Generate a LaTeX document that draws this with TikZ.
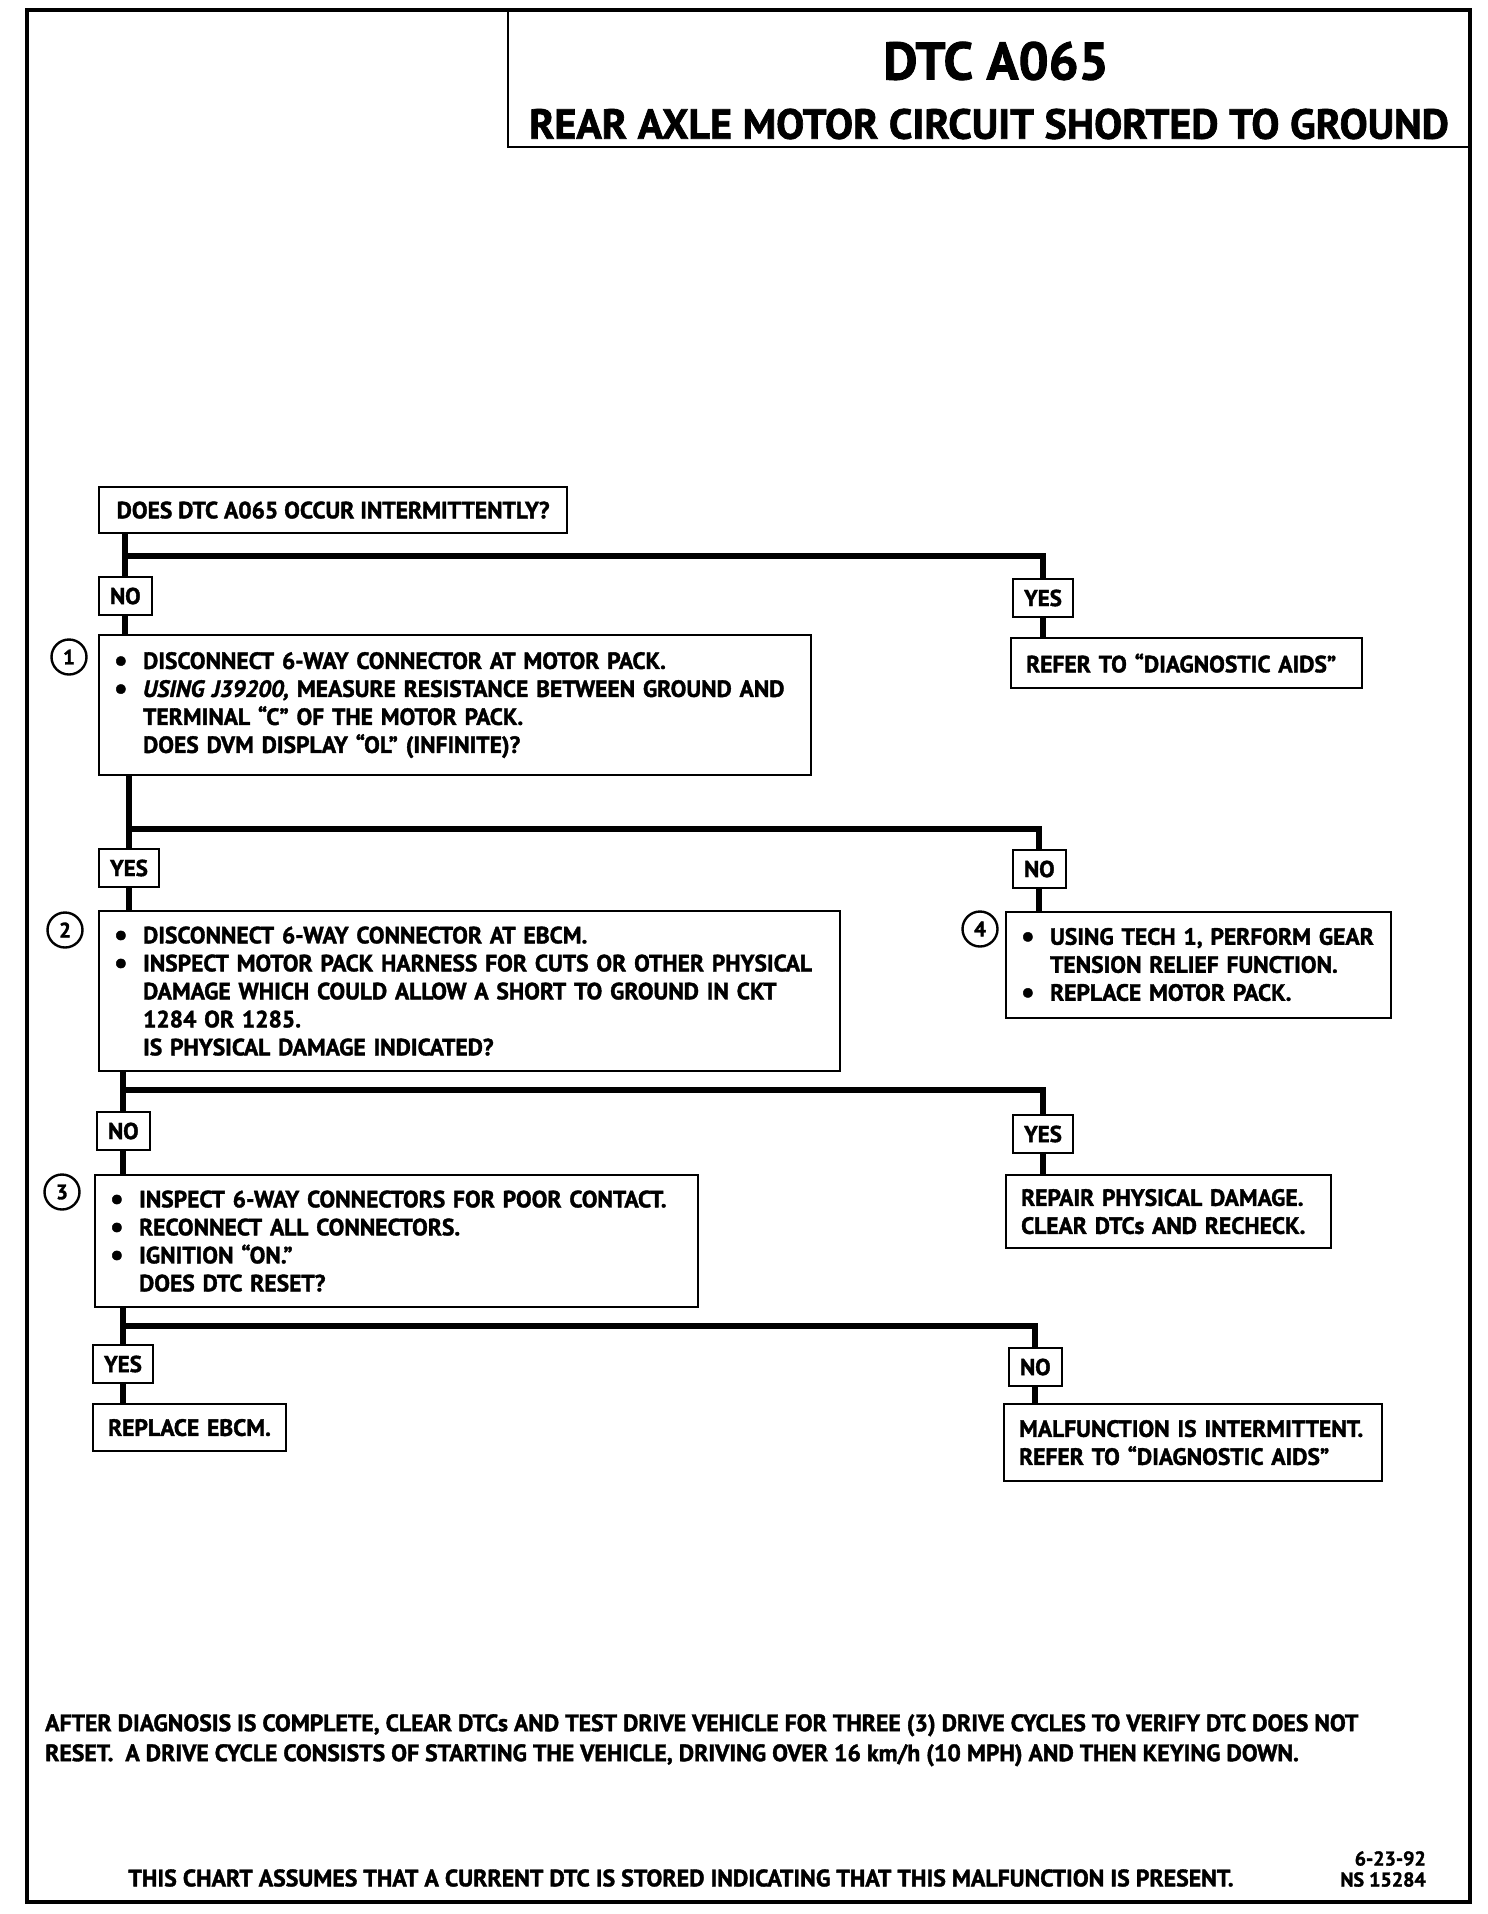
\documentclass[tikz,border=0pt]{standalone}
\usepackage{fontspec}
\setmainfont{PT Sans}[BoldFeatures={FakeBold=1.6}, BoldItalicFeatures={FakeBold=1.6}]
\newcommand{\myitem}{\makebox[29pt][l]{\raisebox{-1.5pt}{\fontsize{30}{28}\selectfont\textbullet}}}
\newcommand{\myindent}{\hspace*{29pt}}
\begin{document}
\begin{tikzpicture}[x=1pt, y=-1pt,
    myboxstyle/.style={draw=black, line width=2.2pt, anchor=north west, inner xsep=15pt, inner ysep=0pt, align=left, font=\bfseries\fontsize{23.5}{28}\selectfont},
    mylabelstyle/.style={draw=black, line width=2.2pt, anchor=west, minimum height=38pt, inner xsep=11pt, font=\bfseries\fontsize{23}{26}\selectfont},
    mynumstyle/.style={draw=black, circle, line width=2.4pt, minimum size=35pt, inner sep=0pt, font=\bfseries\fontsize{21}{24}\selectfont},
    mylinestyle/.style={draw=black, line width=6pt}]
    \useasboundingbox (0,0) rectangle (1488,1914);
    % frame and title
    \draw[line width=4.5pt] (27,10) rectangle (1470,1902);
    \draw[line width=2.2pt] (508,10) rectangle (1470,147);
    \node[font=\bfseries\fontsize{53}{58}\selectfont] (title) at (996,61) {DTC A065};
    \node[font=\bfseries\fontsize{42}{46}\selectfont] (subtitle) at (989,124) {REAR AXLE MOTOR CIRCUIT SHORTED TO GROUND};
    % boxes
    \node[myboxstyle, inner xsep=0pt, minimum width=468pt, minimum height=46pt] (q0) at (98,486) {DOES DTC A065 OCCUR INTERMITTENTLY?};
    \node[myboxstyle, text width=682pt, minimum height=140pt] (step1) at (98,634) {\myitem DISCONNECT 6-WAY CONNECTOR AT MOTOR PACK.\\
        \myitem \textit{USING J39200,} MEASURE RESISTANCE BETWEEN GROUND AND\\
        \myindent TERMINAL “C” OF THE MOTOR PACK.\\
        \myindent DOES DVM DISPLAY “OL” (INFINITE)?};
    \node[myboxstyle, text width=321pt, minimum height=50pt] (refer) at (1010,637) {REFER TO “DIAGNOSTIC AIDS”};
    \node[myboxstyle, text width=711pt, minimum height=160pt] (step2) at (98,910) {\myitem DISCONNECT 6-WAY CONNECTOR AT EBCM.\\
        \myitem INSPECT MOTOR PACK HARNESS FOR CUTS OR OTHER PHYSICAL\\
        \myindent DAMAGE WHICH COULD ALLOW A SHORT TO GROUND IN CKT\\
        \myindent 1284 OR 1285.\\
        \myindent IS PHYSICAL DAMAGE INDICATED?};
    \node[myboxstyle, text width=355pt, minimum height=106pt] (step4) at (1005,911) {\myitem USING TECH 1, PERFORM GEAR\\
        \myindent TENSION RELIEF FUNCTION.\\
        \myitem REPLACE MOTOR PACK.};
    \node[myboxstyle, text width=573pt, minimum height=132pt] (step3) at (94,1174) {\myitem INSPECT 6-WAY CONNECTORS FOR POOR CONTACT.\\
        \myitem RECONNECT ALL CONNECTORS.\\
        \myitem IGNITION “ON.”\\
        \myindent DOES DTC RESET?};
    \node[myboxstyle, text width=295pt, minimum height=73pt] (repair) at (1005,1174) {REPAIR PHYSICAL DAMAGE.\\CLEAR DTCs AND RECHECK.};
    \node[myboxstyle, text width=163pt, minimum height=47pt] (replace) at (92,1403) {REPLACE EBCM.};
    \node[myboxstyle, text width=348pt, minimum height=77pt] (malfunction) at (1003,1403) {MALFUNCTION IS INTERMITTENT.\\REFER TO “DIAGNOSTIC AIDS”};
    % yes / no labels
    \node[mylabelstyle] (no1) at (98,596) {NO};
    \node[mylabelstyle] (yes1) at (1012,598) {YES};
    \node[mylabelstyle] (yes2) at (98,868) {YES};
    \node[mylabelstyle] (no4) at (1012,869) {NO};
    \node[mylabelstyle] (no3) at (96,1131) {NO};
    \node[mylabelstyle] (yes3) at (1012,1134) {YES};
    \node[mylabelstyle] (yes4) at (92,1364) {YES};
    \node[mylabelstyle] (no5) at (1008,1367) {NO};
    % step numbers
    \node[mynumstyle] (n1) at (69,657) {1};
    \node[mynumstyle] (n2) at (65,930) {2};
    \node[mynumstyle] (n4) at (980,929) {4};
    \node[mynumstyle] (n3) at (62,1192) {3};
    % forks
    \coordinate (fork1) at (0,556);
    \coordinate (fork2) at (0,829);
    \coordinate (fork3) at (0,1090);
    \coordinate (fork4) at (0,1326);
    \draw[mylinestyle] (q0.south -| no1) -- (no1.north);
    \draw[mylinestyle] (no1.north |- fork1) -| (yes1.north);
    \draw[mylinestyle] (no1.south) -- (no1.south |- step1.north);
    \draw[mylinestyle] (yes1.south) -- (yes1.south |- refer.north);
    \draw[mylinestyle] (step1.south -| yes2) -- (yes2.north);
    \draw[mylinestyle] (yes2.north |- fork2) -| (no4.north);
    \draw[mylinestyle] (yes2.south) -- (yes2.south |- step2.north);
    \draw[mylinestyle] (no4.south) -- (no4.south |- step4.north);
    \draw[mylinestyle] (step2.south -| no3) -- (no3.north);
    \draw[mylinestyle] (no3.north |- fork3) -| (yes3.north);
    \draw[mylinestyle] (no3.south) -- (no3.south |- step3.north);
    \draw[mylinestyle] (yes3.south) -- (yes3.south |- repair.north);
    \draw[mylinestyle] (step3.south -| yes4) -- (yes4.north);
    \draw[mylinestyle] (yes4.north |- fork4) -| (no5.north);
    \draw[mylinestyle] (yes4.south) -- (yes4.south |- replace.north);
    \draw[mylinestyle] (no5.south) -- (no5.south |- malfunction.north);
    % notes
    \node[anchor=north west, align=left, inner sep=0pt, font=\bfseries\fontsize{23.7}{30}\selectfont] (note) at (45,1714) {AFTER DIAGNOSIS IS COMPLETE, CLEAR DTCs AND TEST DRIVE VEHICLE FOR THREE (3) DRIVE CYCLES TO VERIFY DTC DOES NOT\\
        RESET.\ \ A DRIVE CYCLE CONSISTS OF STARTING THE VEHICLE, DRIVING OVER 16 km/h (10 MPH) AND THEN KEYING DOWN.};
    \node[font=\bfseries\fontsize{23.8}{26}\selectfont] (assume) at (681,1878) {THIS CHART ASSUMES THAT A CURRENT DTC IS STORED INDICATING THAT THIS MALFUNCTION IS PRESENT.};
    \node[anchor=east, align=right, inner sep=0pt, font=\bfseries\fontsize{20}{21}\selectfont] (date) at (1426,1869) {6-23-92\\NS 15284};
\end{tikzpicture}
\end{document}
